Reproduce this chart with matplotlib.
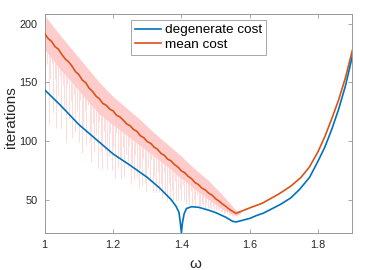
import numpy as np
import matplotlib
matplotlib.use("Agg")
import matplotlib.pyplot as plt

plt.rcParams["font.family"] = ["Liberation Sans", "DejaVu Sans"]

BLUE = "#0072BD"
ORANGE = "#D95319"

# degenerate cost
deg_w = [1.00, 1.045, 1.10, 1.152, 1.20, 1.249, 1.30, 1.336, 1.37, 1.385, 1.393, 1.397,
         1.400, 1.403, 1.408, 1.415, 1.43, 1.45, 1.48, 1.50, 1.53, 1.55, 1.56, 1.58, 1.60,
         1.62, 1.64, 1.66, 1.69, 1.72, 1.745, 1.775, 1.80, 1.82, 1.84, 1.86, 1.88, 1.90]
deg_cost = [143.6, 130.8, 114, 101, 89, 79.5, 69, 60, 50, 44, 39, 30,
            21.8, 30, 38, 42.5, 44, 43.5, 41, 39, 35, 31.5, 31, 32.5, 34,
            36.5, 38.5, 41.5, 46, 51.5, 58.5, 69, 83, 95, 110, 127, 147, 172]

# mean cost, noisy part (1.00 .. 1.56 every 0.01) then smooth part
mean_w_left = np.round(np.arange(1.0, 1.565, 0.01), 2)
mean_left = [191.5, 187.3, 185, 180.5, 178.3, 173.8, 170, 167.5, 163.8, 159.2,
             156.5, 152, 149.7, 145, 142.3, 138.3, 136, 132, 130.5, 127.3,
             125.7, 122, 120.5, 117.8, 114.5, 113, 109.8, 108.2, 104.5, 102.8,
             99.5, 98, 94.8, 93, 89.5, 87.8, 84.5, 83, 79.8, 77.8,
             74.5, 73, 69.8, 67.8, 64.5, 62.8, 59.8, 58.3, 55.5, 53.8,
             50.8, 48.8, 46.3, 44.3, 41.8, 40, 38.3]
mean_w_right = [1.57, 1.60, 1.637, 1.686, 1.72, 1.75, 1.775, 1.80, 1.82, 1.84, 1.86, 1.88, 1.90]
mean_right = [39.5, 43, 47, 55, 61.5, 69, 78, 91, 104, 119, 135, 154, 177]

# spread of the cost (shaded band)
band_w = [1.00, 1.04, 1.08, 1.12, 1.16, 1.20, 1.24, 1.28, 1.32, 1.36, 1.40, 1.44, 1.48, 1.52, 1.56, 1.575]
band_hi = [207, 192, 178, 164, 150, 138, 128, 118, 107, 97, 87, 76, 66, 54, 41, 41]
band_lo = [178, 163, 150, 136, 123, 114, 105, 96, 87, 78, 68, 59, 50, 42, 36, 39]

# lowest sample under each thin streak, 120 streaks from 1.002 to 1.552
spike_lo = [137, 165.5, 114, 152.5, 166, 124, 152.5, 111, 139.5, 155,
            111.5, 148, 128.5, 99, 149, 118.5, 134, 102.5, 139, 107.5,
            126, 99.5, 135, 89.5, 112, 126.5, 97, 130.5, 99, 82,
            115.5, 91, 105.5, 78, 116.5, 91, 76.5, 108.5, 91.5, 76.5,
            87.5, 106.5, 75.5, 94.5, 68.5, 106.5, 77.5, 85.5, 67.5, 94.5,
            69.5, 88.5, 77.5, 96.5, 63.5, 80.5, 66, 88, 69, 60,
            77, 62, 85, 64, 57, 77, 65, 83.5, 56.5, 69.5,
            56.5, 73.5, 56.5, 63.5, 50.5, 73.5, 55, 49, 64, 49,
            58, 50, 66, 49, 50, 59, 50, 62.5, 49.5, 46.5,
            51.5, 46.5, 57.5, 46.5, 49.5, 45, 54, 45, 45, 46.5,
            45.5, 42.5, 47.5, 42.5, 42.5, 43, 45, 41, 41, 41.5,
            41.5, 39.5, 40.5, 38.5, 38.5, 38.5, 36.5, 36.5, 36.5, 35.5]
spike_w = np.linspace(1.002, 1.552, len(spike_lo))

fig = plt.figure(figsize=(3.83, 2.70), dpi=100)
ax = fig.add_axes([0.1167, 0.138, 0.8031, 0.809])

spike_top = np.interp(spike_w, band_w, band_lo) + 2
ax.vlines(spike_w, spike_lo, spike_top, colors="#FFD6D6", lw=0.6, zorder=1)
ax.fill_between(band_w, band_lo, band_hi, color="#FFCCCC", lw=0, zorder=2)

ax.plot(deg_w, deg_cost, color=BLUE, lw=1.2, label="degenerate cost", zorder=4)
ax.plot(list(mean_w_left) + mean_w_right, mean_left + mean_right, color=ORANGE, lw=1.2,
        label="mean cost", zorder=3)

ax.set_xlim(1, 1.9)
ax.set_ylim(21.8, 208)
ax.set_xticks([1, 1.2, 1.4, 1.6, 1.8])
ax.set_xticklabels(["1", "1.2", "1.4", "1.6", "1.8"])
ax.set_yticks([50, 100, 150, 200])
ax.tick_params(direction="in", length=3, width=0.6, color="#999999", labelcolor="#262626",
               labelsize=7.8, top=True, right=True, pad=5)
for s in ax.spines.values():
    s.set_color("#999999")
    s.set_linewidth(0.7)

ax.set_ylabel("iterations", fontsize=11, color="#262626")
ax.yaxis.set_label_coords(-0.087, 0.53)
fig.text(195 / 383, 1 - 257 / 270, "ω", fontsize=11, color="#262626", ha="center", va="top")

leg = ax.legend(loc="upper center", bbox_to_anchor=(0.5, 0.975), borderaxespad=0,
                fontsize=9.7, fancybox=False, framealpha=1, edgecolor="#999999",
                handlelength=1.9, handletextpad=0.3, borderpad=0.3, labelspacing=0.15)
leg.get_frame().set_linewidth(0.6)

fig.savefig("out.png", dpi=100)
